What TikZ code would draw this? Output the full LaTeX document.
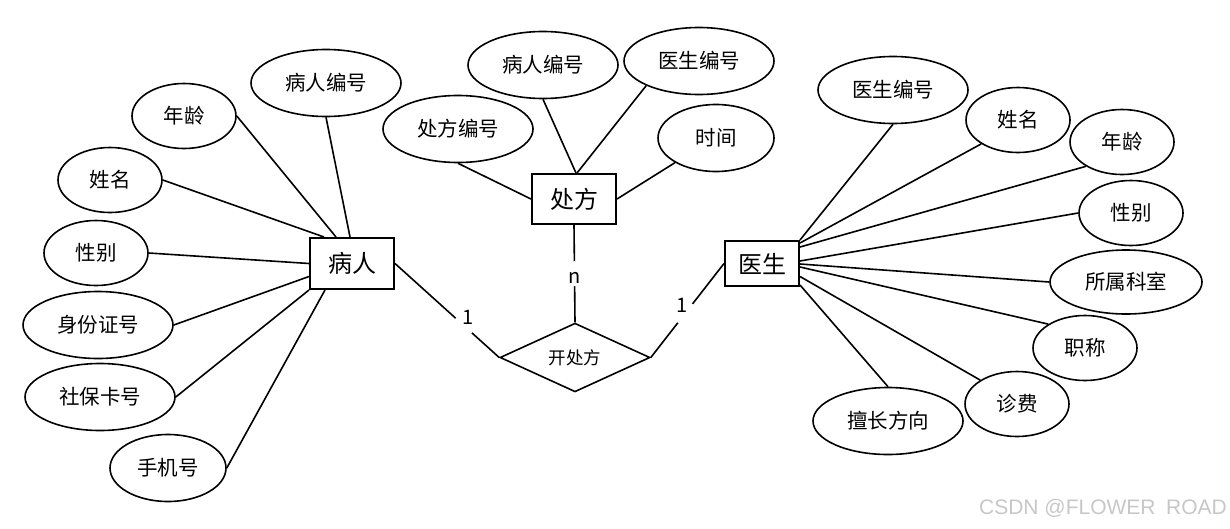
\documentclass[tikz,border=0pt]{standalone}
\usepackage{fontspec}
\setmainfont{Noto Sans CJK SC}
\newfontfamily\wmfont{Liberation Sans}
\usetikzlibrary{shapes.geometric,calc}
\begin{document}
\begin{tikzpicture}[x=1pt,y=-1pt,
  attr/.style={ellipse,draw,line width=1.6pt,inner sep=0pt,font=\fontsize{20.5}{24}\selectfont},
  big/.style={minimum width=150pt,minimum height=67pt},
  mid/.style={minimum width=116pt,minimum height=67pt},
  sml/.style={minimum width=104pt,minimum height=65pt},
  entity/.style={rectangle,draw,line width=2pt,inner sep=0pt,font=\fontsize{24}{28}\selectfont},
  rel/.style={diamond,draw,line width=1.6pt,inner sep=0pt,minimum width=150pt,minimum height=65pt,font=\fontsize{17.5}{20}\selectfont},
  conn/.style={line width=1.6pt},
  gap/.style={circle,fill=white,inner sep=0pt,minimum size=22pt},
  card/.style={inner sep=0pt,font=\fontsize{20}{22}\selectfont}]
\useasboundingbox (0,0) rectangle (1230,528);

% entities
\node[entity,minimum width=84pt,minimum height=51pt] (p) at (352,263.5) {病人};
\node[entity,minimum width=84pt,minimum height=50pt] (r) at (574,199) {处方};
\node[entity,minimum width=74pt,minimum height=45pt] (g) at (762,263.5) {医生};
\node[rel] (d) at (575,357.5) {开处方};

% patient attributes
\node[attr,big] (lpid) at (326,83) {病人编号};
\node[attr,sml] (lage) at (184,116) {年龄};
\node[attr,sml] (lname) at (110,180) {姓名};
\node[attr,sml] (lsex) at (96,253) {性别};
\node[attr,big] (lidc) at (98,325) {身份证号};
\node[attr,big] (lss) at (100,397) {社保卡号};
\node[attr,mid] (lph) at (168,468) {手机号};

% prescription attributes
\node[attr,big] (rpid) at (543,65) {病人编号};
\node[attr,big] (rdid) at (699,61) {医生编号};
\node[attr,big] (rno) at (458,129) {处方编号};
\node[attr,mid] (rtime) at (716,138) {时间};

% doctor attributes
\node[attr,big] (gid) at (893,90) {医生编号};
\node[attr,sml] (gname) at (1018,120) {姓名};
\node[attr,sml] (gage) at (1122,142) {年龄};
\node[attr,sml] (gsex) at (1131,213) {性别};
\node[attr,big,minimum width=152pt,minimum height=64pt] (gdept) at (1126,282) {所属科室};
\node[attr,sml] (gtitle) at (1085,348) {职称};
\node[attr,sml] (gfee) at (1017,404) {诊费};
\node[attr,big] (gspec) at (888,421) {擅长方向};

% patient connectors
\draw[conn] (lpid.south) -- ($(p.north west)+(41,0)$);
\draw[conn] (lage.east) -- ($(p.north west)+(27,0)$);
\draw[conn] (lname.east) -- ($(p.north west)+(15,0)$);
\draw[conn] (lsex.east) -- (p.west);
\draw[conn] (lidc.east) -- ($(p.west)+(0,13)$);
\draw[conn] (lss.east) -- (p.south west);
\draw[conn] (lph.east) -- ($(p.south west)+(16,0)$);

% prescription connectors
\draw[conn] (rno.south) -- (r.west);
\draw[conn] (rpid.south) -- ($(r.north)+(2,0)$);
\draw[conn] (rdid.205) -- ($(r.north)+(3,0)$);
\draw[conn] (rtime.211) -- (r.east);

% doctor connectors
\draw[conn] (gid.south) -- (g.north east);
\draw[conn] (gname.213) -- ($(g.north east)+(0,3)$);
\draw[conn] (gage.214) -- ($(g.north east)+(0,7)$);
\draw[conn] (gsex.west) -- ($(g.east)+(0,-2.5)$);
\draw[conn] (gdept.west) -- ($(g.east)+(0,0.5)$);
\draw[conn] (gtitle.147) -- ($(g.east)+(0,3.5)$);
\draw[conn] (gfee.147) -- ($(g.east)+(0,13)$);
\draw[conn] (gspec.north) -- ($(g.south east)+(0,-2)$);

% relationship connectors
\draw[conn] (p.east) -- node[gap,pos=0.66] {} node[card,pos=0.66,xshift=4pt,yshift=8pt] {1} (d.west);
\draw[conn] (r.south) -- node[gap,pos=0.5,minimum size=25pt] {} node[card,pos=0.5,yshift=-4pt] {n} (d.north);
\draw[conn] (d.east) -- node[gap,pos=0.47,minimum size=24pt] {} node[card,pos=0.47,xshift=-3pt,yshift=8pt] {1} (g.west);

% watermark
\node[anchor=south east,inner sep=0pt,text=black!22,font=\wmfont\fontsize{21}{24}\selectfont] (wm) at (1227,518) {CSDN @FLOWER\hspace{0.5em}ROAD};
\end{tikzpicture}
\end{document}
